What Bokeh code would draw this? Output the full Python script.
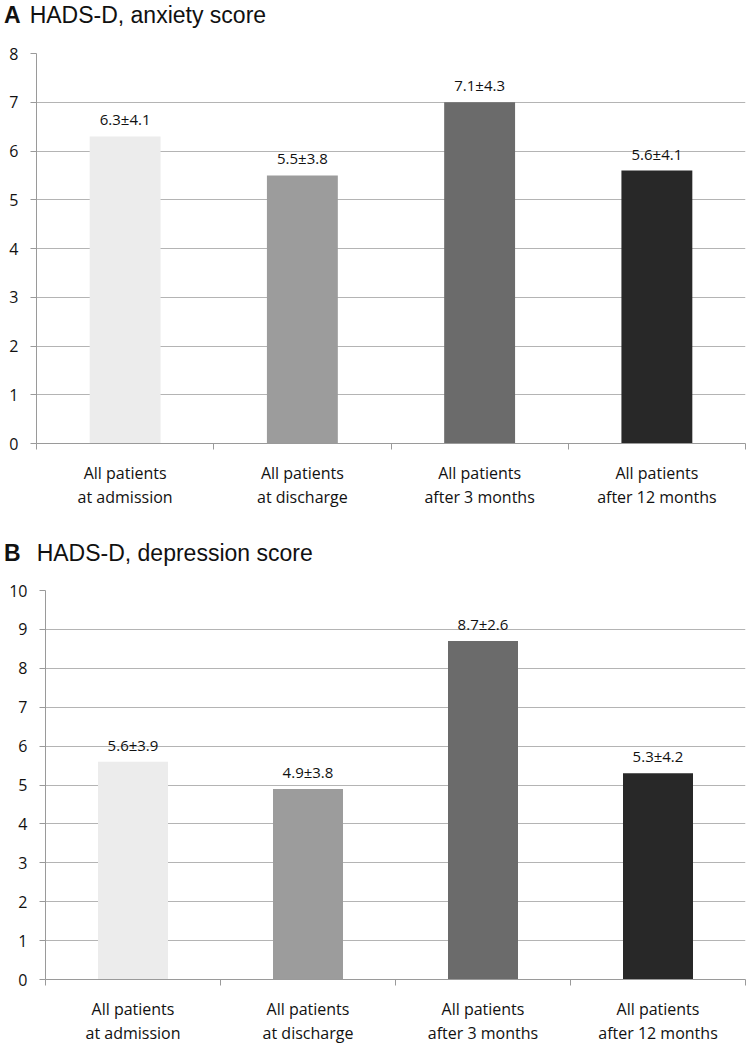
import numpy as np
from bokeh.plotting import figure
from bokeh.models import ColumnDataSource, FixedTicker, Div, Range1d
from bokeh.layouts import column, row
from bokeh.embed import file_html
from bokeh.resources import INLINE
from bokeh.core.properties import value

# ---- data -------------------------------------------------------------
categories = ["All patients\nat admission", "All patients\nat discharge",
              "All patients\nafter 3 months", "All patients\nafter 12 months"]
anxiety_bars = [6.3, 5.5, 7.0, 5.6]
anxiety_labels = ["6.3±4.1", "5.5±3.8", "7.1±4.3", "5.6±4.1"]
depression_bars = [5.6, 4.9, 8.7, 5.3]
depression_labels = ["5.6±3.9", "4.9±3.8", "8.7±2.6", "5.3±4.2"]
bar_colors = ["#ececec", "#9c9c9c", "#6b6b6b", "#282828"]
anxiety_yticks = [0, 1, 2, 3, 4, 5, 6, 7, 8]
depression_yticks = [0, 1, 2, 3, 4, 5, 6, 7, 8, 9, 10]

TICK_FONT = "Open Sans"
GRID = "#b4b4b4"
AXIS = "#9a9a9a"
TEXT = "#111111"


def make_panel(bars, labels, yticks, height, top, bottom, left):
    n = len(categories)
    centers = list(np.arange(n) + 0.5)
    src = ColumnDataSource(dict(x=centers, top=bars, label=labels, color=bar_colors))
    p = figure(width=748, height=height, x_range=Range1d(0, n),
               y_range=Range1d(yticks[0], yticks[-1]),
               output_backend="svg", toolbar_location=None,
               min_border_left=left, min_border_right=3,
               min_border_top=top, min_border_bottom=bottom)
    p.outline_line_color = None
    p.background_fill_color = "white"
    p.border_fill_color = "white"

    p.vbar(x="x", top="top", width=0.4, bottom=0, fill_color="color",
           line_color=None, source=src)
    p.text(x="x", y="top", text="label", source=src, text_align="center",
           text_baseline="bottom", y_offset=-7, text_font=value(TICK_FONT),
           text_font_size="15px", text_color=TEXT)

    # y axis
    p.yaxis.ticker = FixedTicker(ticks=yticks)
    p.yaxis.axis_line_color = AXIS
    p.yaxis.major_tick_line_color = AXIS
    p.yaxis.major_tick_out = 6
    p.yaxis.major_tick_in = 0
    p.yaxis.minor_tick_line_color = None
    p.yaxis.major_label_standoff = 12
    p.yaxis.major_label_text_font = TICK_FONT
    p.yaxis.major_label_text_font_size = "16px"
    p.yaxis.major_label_text_color = TEXT
    p.ygrid.ticker = FixedTicker(ticks=yticks)
    p.ygrid.grid_line_color = GRID
    p.xgrid.grid_line_color = None

    # x axis: labels at centres, tick marks at boundaries
    p.xaxis.ticker = FixedTicker(ticks=centers, minor_ticks=list(range(n + 1)))
    p.xaxis.major_label_overrides = {c: lab for c, lab in zip(centers, categories)}
    p.xaxis.axis_line_color = AXIS
    p.xaxis.major_tick_line_color = None
    p.xaxis.major_tick_out = 0
    p.xaxis.major_tick_in = 0
    p.xaxis.minor_tick_line_color = AXIS
    p.xaxis.minor_tick_out = 6
    p.xaxis.minor_tick_in = 0
    p.xaxis.major_label_standoff = 12
    p.xaxis.major_label_text_font = TICK_FONT
    p.xaxis.major_label_text_font_size = "16px"
    p.xaxis.major_label_text_line_height = 1.13
    p.xaxis.major_label_text_color = TEXT
    return p


def title_div(letter, rest, gap, height, pad):
    html = ('<div style="font-family:\'Liberation Sans\',Arial,sans-serif;'
            'font-size:23px;line-height:26px;color:#111;padding-top:%dpx;'
            'padding-left:4px;white-space:nowrap;">'
            '<b>%s</b><span style="margin-left:%dpx">%s</span></div>'
            % (pad, letter, gap, rest))
    return Div(text=html, width=748, height=height, margin=(0, 0, 0, 0))


div_a = title_div("A", "HADS-D, anxiety score", 9, 37, 2)
fig_a = make_panel(anxiety_bars, anxiety_labels, anxiety_yticks, 486, 16, 80, 36)
div_b = title_div("B", "HADS-D, depression score", 16, 46, 17)
fig_b = make_panel(depression_bars, depression_labels, depression_yticks, 478, 21, 67, 45)

layout = column(div_a, row(fig_a), div_b, row(fig_b), spacing=0)

open("out.html", "w").write(file_html(layout, INLINE))
